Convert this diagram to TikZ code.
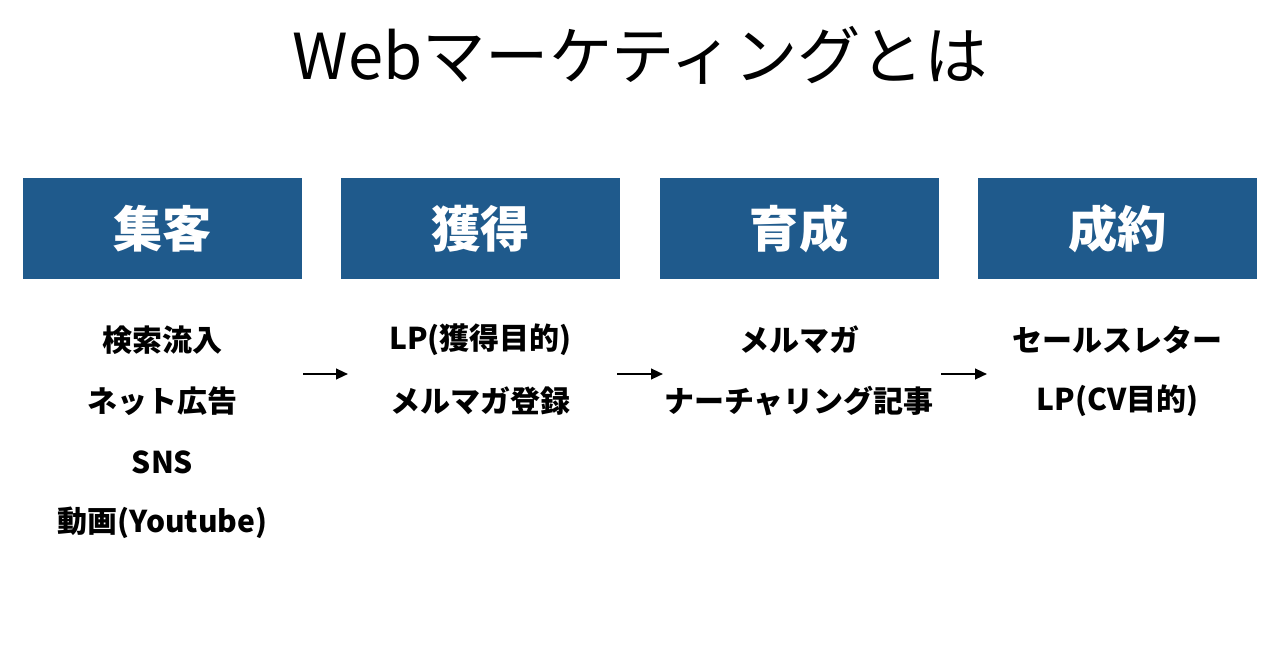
\documentclass[tikz,border=0pt]{standalone}
\usepackage{fontspec}
\setmainfont{Noto Sans CJK JP}
\usetikzlibrary{arrows.meta}
\definecolor{boxblue}{HTML}{1F5A8C}
\begin{document}
\begin{tikzpicture}[x=0.75pt,y=-0.75pt,
  stage/.style={fill=boxblue,draw=none,minimum width=279*0.75pt,minimum height=101*0.75pt,inner sep=0pt,text=white,font=\fontsize{37}{42}\selectfont\bfseries},
  item/.style={font=\fontsize{22.5}{26}\selectfont\bfseries,text=black,inner sep=0pt},
  flow/.style={line width=1.6pt,-{Triangle[length=9pt,width=8pt]}}]
\useasboundingbox (0,0) rectangle (1280,670);
\node[font=\fontsize{47.5}{54}\selectfont] (title) at (640,55) {Webマーケティングとは};
\node[stage] (s1) at (162.5,228.5) {集客};
\node[stage] (s2) at (480.5,228.5) {獲得};
\node[stage] (s3) at (799,228.5) {育成};
\node[stage] (s4) at (1117.5,228.5) {成約};
\node[item] (a1) at (162.5,340) {検索流入};
\node[item] (a2) at (162.5,401) {ネット広告};
\node[item] (a3) at (162.5,462) {SNS};
\node[item] (a4) at (162.5,523) {動画(Youtube)};
\node[item] (b1) at (480.5,340) {LP(獲得目的)};
\node[item] (b2) at (480.5,401) {メルマガ登録};
\node[item] (c1) at (799,340) {メルマガ};
\node[item] (c2) at (799,401) {ナーチャリング記事};
\node[item] (d1) at (1117.5,340) {セールスレター};
\node[item] (d2) at (1117.5,401) {LP(CV目的)};
\coordinate (p1) at (303,374); \coordinate (q1) at (348,374);
\coordinate (p2) at (617,374); \coordinate (q2) at (663,374);
\coordinate (p3) at (941,374); \coordinate (q3) at (987,374);
\draw[flow] (p1) -- (q1);
\draw[flow] (p2) -- (q2);
\draw[flow] (p3) -- (q3);
\end{tikzpicture}
\end{document}
